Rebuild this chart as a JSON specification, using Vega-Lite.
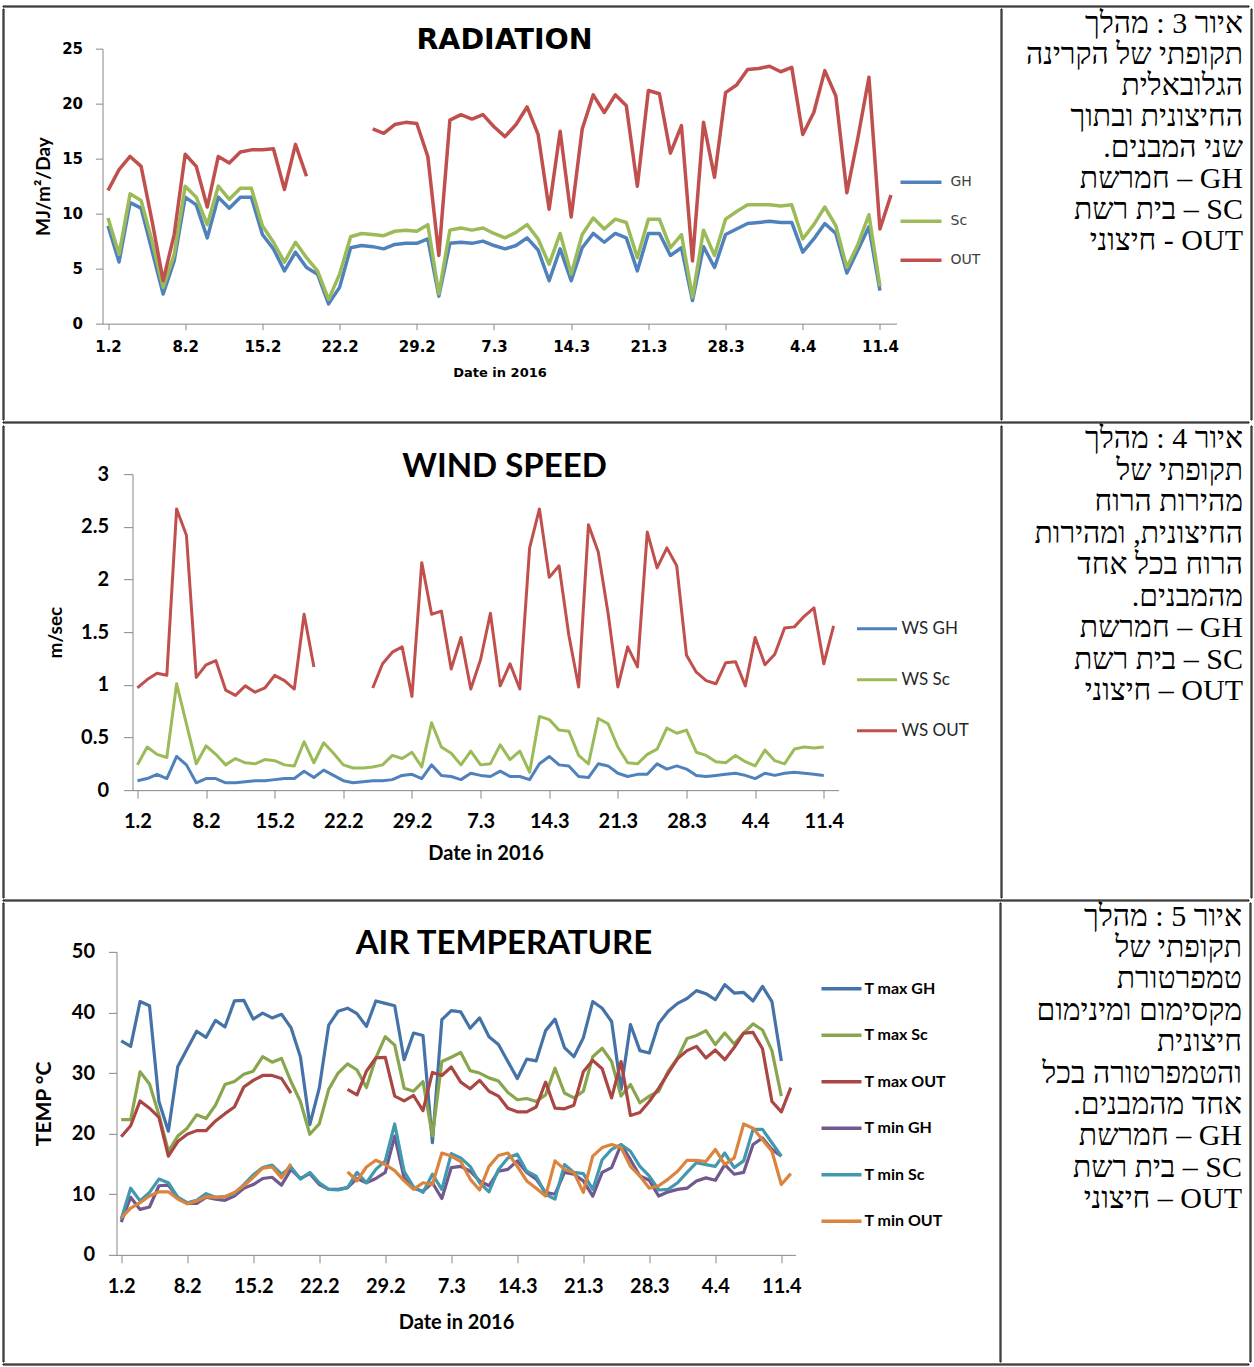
{
"$schema": "https://vega.github.io/schema/vega-lite/v6.json",
"padding": {"left": 1.5, "top": 4.5, "right": 2, "bottom": 1},
"background": "white",
"config": {
  "view": {"stroke": null},
  "axis": {"grid": false, "domainColor": "#868686", "tickColor": "#868686", "labelColor": "black", "titleColor": "black", "labelFontWeight": "bold", "titleFontWeight": "bold", "labelOverlap": false, "labelFlush": false}
},
"datasets": {
"rad": [
{"date":"2016-02-01","GH":8.9,"Sc":9.6,"OUT":12.1},
{"date":"2016-02-02","GH":5.6,"Sc":6.3,"OUT":14.0},
{"date":"2016-02-03","GH":11.0,"Sc":11.8,"OUT":15.2},
{"date":"2016-02-04","GH":10.5,"Sc":11.2,"OUT":14.3},
{"date":"2016-02-05","GH":6.6,"Sc":7.5,"OUT":9.3},
{"date":"2016-02-06","GH":2.7,"Sc":3.3,"OUT":3.9},
{"date":"2016-02-07","GH":5.7,"Sc":6.3,"OUT":8.1},
{"date":"2016-02-08","GH":11.5,"Sc":12.5,"OUT":15.4},
{"date":"2016-02-09","GH":10.8,"Sc":11.5,"OUT":14.3},
{"date":"2016-02-10","GH":7.8,"Sc":9.0,"OUT":10.6},
{"date":"2016-02-11","GH":11.5,"Sc":12.5,"OUT":15.2},
{"date":"2016-02-12","GH":10.5,"Sc":11.3,"OUT":14.6},
{"date":"2016-02-13","GH":11.5,"Sc":12.3,"OUT":15.6},
{"date":"2016-02-14","GH":11.5,"Sc":12.3,"OUT":15.8},
{"date":"2016-02-15","GH":8.1,"Sc":8.9,"OUT":15.8},
{"date":"2016-02-16","GH":6.8,"Sc":7.4,"OUT":15.9},
{"date":"2016-02-17","GH":4.8,"Sc":5.6,"OUT":12.2},
{"date":"2016-02-18","GH":6.5,"Sc":7.4,"OUT":16.3},
{"date":"2016-02-19","GH":5.1,"Sc":6.0,"OUT":13.4},
{"date":"2016-02-20","GH":4.5,"Sc":4.8,"OUT":null},
{"date":"2016-02-21","GH":1.8,"Sc":2.2,"OUT":null},
{"date":"2016-02-22","GH":3.3,"Sc":4.5,"OUT":null},
{"date":"2016-02-23","GH":6.9,"Sc":7.9,"OUT":null},
{"date":"2016-02-24","GH":7.1,"Sc":8.2,"OUT":null},
{"date":"2016-02-25","GH":7.0,"Sc":8.1,"OUT":17.7},
{"date":"2016-02-26","GH":6.8,"Sc":8.0,"OUT":17.3},
{"date":"2016-02-27","GH":7.2,"Sc":8.4,"OUT":18.1},
{"date":"2016-02-28","GH":7.3,"Sc":8.5,"OUT":18.3},
{"date":"2016-02-29","GH":7.3,"Sc":8.4,"OUT":18.2},
{"date":"2016-03-01","GH":7.7,"Sc":9.0,"OUT":15.2},
{"date":"2016-03-02","GH":2.5,"Sc":2.7,"OUT":6.2},
{"date":"2016-03-03","GH":7.3,"Sc":8.5,"OUT":18.5},
{"date":"2016-03-04","GH":7.4,"Sc":8.7,"OUT":19.0},
{"date":"2016-03-05","GH":7.3,"Sc":8.5,"OUT":18.6},
{"date":"2016-03-06","GH":7.5,"Sc":8.7,"OUT":19.0},
{"date":"2016-03-07","GH":7.1,"Sc":8.2,"OUT":17.9},
{"date":"2016-03-08","GH":6.8,"Sc":7.8,"OUT":17.0},
{"date":"2016-03-09","GH":7.1,"Sc":8.3,"OUT":18.1},
{"date":"2016-03-10","GH":7.8,"Sc":9.0,"OUT":19.7},
{"date":"2016-03-11","GH":6.7,"Sc":7.7,"OUT":17.2},
{"date":"2016-03-12","GH":3.9,"Sc":5.4,"OUT":10.4},
{"date":"2016-03-13","GH":6.8,"Sc":8.2,"OUT":17.5},
{"date":"2016-03-14","GH":3.9,"Sc":4.5,"OUT":9.7},
{"date":"2016-03-15","GH":6.9,"Sc":8.1,"OUT":17.7},
{"date":"2016-03-16","GH":8.2,"Sc":9.6,"OUT":20.8},
{"date":"2016-03-17","GH":7.4,"Sc":8.6,"OUT":19.2},
{"date":"2016-03-18","GH":8.2,"Sc":9.5,"OUT":20.8},
{"date":"2016-03-19","GH":7.8,"Sc":9.2,"OUT":19.8},
{"date":"2016-03-20","GH":4.8,"Sc":6.0,"OUT":12.5},
{"date":"2016-03-21","GH":8.2,"Sc":9.5,"OUT":21.2},
{"date":"2016-03-22","GH":8.2,"Sc":9.5,"OUT":20.9},
{"date":"2016-03-23","GH":6.2,"Sc":6.9,"OUT":15.5},
{"date":"2016-03-24","GH":6.9,"Sc":8.1,"OUT":18.0},
{"date":"2016-03-25","GH":2.1,"Sc":2.4,"OUT":5.7},
{"date":"2016-03-26","GH":7.0,"Sc":8.5,"OUT":18.3},
{"date":"2016-03-27","GH":5.1,"Sc":6.2,"OUT":13.3},
{"date":"2016-03-28","GH":8.1,"Sc":9.5,"OUT":21.0},
{"date":"2016-03-29","GH":8.6,"Sc":10.2,"OUT":21.7},
{"date":"2016-03-30","GH":9.1,"Sc":10.8,"OUT":23.1},
{"date":"2016-03-31","GH":9.2,"Sc":10.8,"OUT":23.2},
{"date":"2016-04-01","GH":9.3,"Sc":10.8,"OUT":23.4},
{"date":"2016-04-02","GH":9.2,"Sc":10.7,"OUT":22.9},
{"date":"2016-04-03","GH":9.2,"Sc":10.8,"OUT":23.3},
{"date":"2016-04-04","GH":6.5,"Sc":7.7,"OUT":17.2},
{"date":"2016-04-05","GH":7.7,"Sc":9.0,"OUT":19.2},
{"date":"2016-04-06","GH":9.1,"Sc":10.6,"OUT":23.0},
{"date":"2016-04-07","GH":8.2,"Sc":8.9,"OUT":20.7},
{"date":"2016-04-08","GH":4.6,"Sc":5.1,"OUT":11.9},
{"date":"2016-04-09","GH":6.7,"Sc":7.2,"OUT":16.9},
{"date":"2016-04-10","GH":8.8,"Sc":9.9,"OUT":22.4},
{"date":"2016-04-11","GH":3.0,"Sc":3.4,"OUT":8.6},
{"date":"2016-04-12","GH":null,"Sc":null,"OUT":11.7}
],
"wind": [
{"date":"2016-02-01","WS GH":0.09,"WS Sc":0.24,"WS OUT":0.97},
{"date":"2016-02-02","WS GH":0.11,"WS Sc":0.41,"WS OUT":1.05},
{"date":"2016-02-03","WS GH":0.15,"WS Sc":0.34,"WS OUT":1.11},
{"date":"2016-02-04","WS GH":0.11,"WS Sc":0.31,"WS OUT":1.09},
{"date":"2016-02-05","WS GH":0.32,"WS Sc":1.01,"WS OUT":2.67},
{"date":"2016-02-06","WS GH":0.24,"WS Sc":0.63,"WS OUT":2.42},
{"date":"2016-02-07","WS GH":0.07,"WS Sc":0.25,"WS OUT":1.07},
{"date":"2016-02-08","WS GH":0.11,"WS Sc":0.42,"WS OUT":1.19},
{"date":"2016-02-09","WS GH":0.11,"WS Sc":0.34,"WS OUT":1.23},
{"date":"2016-02-10","WS GH":0.07,"WS Sc":0.24,"WS OUT":0.95},
{"date":"2016-02-11","WS GH":0.07,"WS Sc":0.30,"WS OUT":0.90},
{"date":"2016-02-12","WS GH":0.08,"WS Sc":0.26,"WS OUT":0.99},
{"date":"2016-02-13","WS GH":0.09,"WS Sc":0.25,"WS OUT":0.93},
{"date":"2016-02-14","WS GH":0.09,"WS Sc":0.29,"WS OUT":0.97},
{"date":"2016-02-15","WS GH":0.10,"WS Sc":0.28,"WS OUT":1.09},
{"date":"2016-02-16","WS GH":0.11,"WS Sc":0.24,"WS OUT":1.04},
{"date":"2016-02-17","WS GH":0.11,"WS Sc":0.23,"WS OUT":0.96},
{"date":"2016-02-18","WS GH":0.18,"WS Sc":0.46,"WS OUT":1.67},
{"date":"2016-02-19","WS GH":0.12,"WS Sc":0.26,"WS OUT":1.17},
{"date":"2016-02-20","WS GH":0.19,"WS Sc":0.45,"WS OUT":null},
{"date":"2016-02-21","WS GH":0.14,"WS Sc":0.35,"WS OUT":null},
{"date":"2016-02-22","WS GH":0.09,"WS Sc":0.24,"WS OUT":null},
{"date":"2016-02-23","WS GH":0.07,"WS Sc":0.21,"WS OUT":null},
{"date":"2016-02-24","WS GH":0.08,"WS Sc":0.21,"WS OUT":null},
{"date":"2016-02-25","WS GH":0.09,"WS Sc":0.22,"WS OUT":0.97},
{"date":"2016-02-26","WS GH":0.09,"WS Sc":0.24,"WS OUT":1.20},
{"date":"2016-02-27","WS GH":0.10,"WS Sc":0.33,"WS OUT":1.31},
{"date":"2016-02-28","WS GH":0.14,"WS Sc":0.30,"WS OUT":1.36},
{"date":"2016-02-29","WS GH":0.15,"WS Sc":0.36,"WS OUT":0.89},
{"date":"2016-03-01","WS GH":0.11,"WS Sc":0.22,"WS OUT":2.16},
{"date":"2016-03-02","WS GH":0.24,"WS Sc":0.64,"WS OUT":1.67},
{"date":"2016-03-03","WS GH":0.14,"WS Sc":0.41,"WS OUT":1.70},
{"date":"2016-03-04","WS GH":0.13,"WS Sc":0.35,"WS OUT":1.15},
{"date":"2016-03-05","WS GH":0.10,"WS Sc":0.24,"WS OUT":1.45},
{"date":"2016-03-06","WS GH":0.16,"WS Sc":0.37,"WS OUT":0.96},
{"date":"2016-03-07","WS GH":0.14,"WS Sc":0.24,"WS OUT":1.24},
{"date":"2016-03-08","WS GH":0.13,"WS Sc":0.25,"WS OUT":1.68},
{"date":"2016-03-09","WS GH":0.18,"WS Sc":0.43,"WS OUT":0.99},
{"date":"2016-03-10","WS GH":0.13,"WS Sc":0.29,"WS OUT":1.20},
{"date":"2016-03-11","WS GH":0.13,"WS Sc":0.37,"WS OUT":0.96},
{"date":"2016-03-12","WS GH":0.10,"WS Sc":0.17,"WS OUT":2.30},
{"date":"2016-03-13","WS GH":0.25,"WS Sc":0.70,"WS OUT":2.67},
{"date":"2016-03-14","WS GH":0.32,"WS Sc":0.67,"WS OUT":2.02},
{"date":"2016-03-15","WS GH":0.24,"WS Sc":0.57,"WS OUT":2.13},
{"date":"2016-03-16","WS GH":0.23,"WS Sc":0.56,"WS OUT":1.47},
{"date":"2016-03-17","WS GH":0.13,"WS Sc":0.33,"WS OUT":0.98},
{"date":"2016-03-18","WS GH":0.12,"WS Sc":0.25,"WS OUT":2.52},
{"date":"2016-03-19","WS GH":0.25,"WS Sc":0.68,"WS OUT":2.26},
{"date":"2016-03-20","WS GH":0.23,"WS Sc":0.63,"WS OUT":1.68},
{"date":"2016-03-21","WS GH":0.16,"WS Sc":0.41,"WS OUT":0.98},
{"date":"2016-03-22","WS GH":0.13,"WS Sc":0.26,"WS OUT":1.36},
{"date":"2016-03-23","WS GH":0.15,"WS Sc":0.25,"WS OUT":1.17},
{"date":"2016-03-24","WS GH":0.15,"WS Sc":0.34,"WS OUT":2.45},
{"date":"2016-03-25","WS GH":0.25,"WS Sc":0.39,"WS OUT":2.11},
{"date":"2016-03-26","WS GH":0.20,"WS Sc":0.59,"WS OUT":2.30},
{"date":"2016-03-27","WS GH":0.23,"WS Sc":0.54,"WS OUT":2.13},
{"date":"2016-03-28","WS GH":0.20,"WS Sc":0.57,"WS OUT":1.28},
{"date":"2016-03-29","WS GH":0.14,"WS Sc":0.36,"WS OUT":1.12},
{"date":"2016-03-30","WS GH":0.13,"WS Sc":0.33,"WS OUT":1.04},
{"date":"2016-03-31","WS GH":0.14,"WS Sc":0.27,"WS OUT":1.01},
{"date":"2016-04-01","WS GH":0.15,"WS Sc":0.26,"WS OUT":1.21},
{"date":"2016-04-02","WS GH":0.16,"WS Sc":0.33,"WS OUT":1.22},
{"date":"2016-04-03","WS GH":0.14,"WS Sc":0.27,"WS OUT":0.99},
{"date":"2016-04-04","WS GH":0.11,"WS Sc":0.23,"WS OUT":1.45},
{"date":"2016-04-05","WS GH":0.16,"WS Sc":0.38,"WS OUT":1.19},
{"date":"2016-04-06","WS GH":0.14,"WS Sc":0.28,"WS OUT":1.29},
{"date":"2016-04-07","WS GH":0.16,"WS Sc":0.25,"WS OUT":1.54},
{"date":"2016-04-08","WS GH":0.17,"WS Sc":0.39,"WS OUT":1.55},
{"date":"2016-04-09","WS GH":0.16,"WS Sc":0.41,"WS OUT":1.65},
{"date":"2016-04-10","WS GH":0.15,"WS Sc":0.40,"WS OUT":1.73},
{"date":"2016-04-11","WS GH":0.14,"WS Sc":0.41,"WS OUT":1.20},
{"date":"2016-04-12","WS GH":null,"WS Sc":null,"WS OUT":1.56}
],
"temp": [
{"date":"2016-02-01","T max GH":35.3,"T max Sc":22.3,"T max OUT":19.5,"T min GH":5.4,"T min Sc":5.9,"T min OUT":6.1},
{"date":"2016-02-02","T max GH":34.4,"T max Sc":22.3,"T max OUT":21.3,"T min GH":9.5,"T min Sc":11.0,"T min OUT":7.7},
{"date":"2016-02-03","T max GH":41.8,"T max Sc":30.2,"T max OUT":25.4,"T min GH":7.5,"T min Sc":8.9,"T min OUT":8.6},
{"date":"2016-02-04","T max GH":41.1,"T max Sc":28.2,"T max OUT":24.2,"T min GH":7.9,"T min Sc":10.3,"T min OUT":9.7},
{"date":"2016-02-05","T max GH":25.3,"T max Sc":23.1,"T max OUT":22.7,"T min GH":11.4,"T min Sc":12.5,"T min OUT":10.4},
{"date":"2016-02-06","T max GH":20.4,"T max Sc":17.1,"T max OUT":16.3,"T min GH":11.5,"T min Sc":11.9,"T min OUT":10.4},
{"date":"2016-02-07","T max GH":31.1,"T max Sc":19.6,"T max OUT":18.7,"T min GH":9.5,"T min Sc":9.5,"T min OUT":9.2},
{"date":"2016-02-08","T max GH":34.0,"T max Sc":20.9,"T max OUT":19.9,"T min GH":8.5,"T min Sc":8.6,"T min OUT":8.4},
{"date":"2016-02-09","T max GH":36.9,"T max Sc":23.1,"T max OUT":20.5,"T min GH":8.5,"T min Sc":9.0,"T min OUT":8.9},
{"date":"2016-02-10","T max GH":35.9,"T max Sc":22.5,"T max OUT":20.5,"T min GH":9.5,"T min Sc":10.1,"T min OUT":9.6},
{"date":"2016-02-11","T max GH":38.7,"T max Sc":24.7,"T max OUT":22.1,"T min GH":9.2,"T min Sc":9.5,"T min OUT":9.5},
{"date":"2016-02-12","T max GH":37.6,"T max Sc":28.1,"T max OUT":23.3,"T min GH":9.0,"T min Sc":9.6,"T min OUT":9.6},
{"date":"2016-02-13","T max GH":41.9,"T max Sc":28.6,"T max OUT":24.4,"T min GH":9.7,"T min Sc":10.1,"T min OUT":10.3},
{"date":"2016-02-14","T max GH":42.0,"T max Sc":29.8,"T max OUT":27.7,"T min GH":11.0,"T min Sc":11.6,"T min OUT":11.4},
{"date":"2016-02-15","T max GH":38.9,"T max Sc":30.3,"T max OUT":28.8,"T min GH":11.6,"T min Sc":13.2,"T min OUT":12.8},
{"date":"2016-02-16","T max GH":39.9,"T max Sc":32.7,"T max OUT":29.6,"T min GH":12.6,"T min Sc":14.4,"T min OUT":14.3},
{"date":"2016-02-17","T max GH":39.1,"T max Sc":31.8,"T max OUT":29.6,"T min GH":12.8,"T min Sc":14.8,"T min OUT":14.5},
{"date":"2016-02-18","T max GH":39.7,"T max Sc":32.4,"T max OUT":29.1,"T min GH":11.5,"T min Sc":13.3,"T min OUT":12.7},
{"date":"2016-02-19","T max GH":37.5,"T max Sc":28.6,"T max OUT":26.7,"T min GH":14.1,"T min Sc":14.5,"T min OUT":15.0},
{"date":"2016-02-20","T max GH":32.7,"T max Sc":25.3,"T max OUT":null,"T min GH":12.6,"T min Sc":12.5,"T min OUT":null},
{"date":"2016-02-21","T max GH":21.5,"T max Sc":19.9,"T max OUT":null,"T min GH":13.4,"T min Sc":13.6,"T min OUT":null},
{"date":"2016-02-22","T max GH":27.5,"T max Sc":21.6,"T max OUT":null,"T min GH":11.6,"T min Sc":11.9,"T min OUT":null},
{"date":"2016-02-23","T max GH":37.9,"T max Sc":27.3,"T max OUT":null,"T min GH":10.8,"T min Sc":10.8,"T min OUT":null},
{"date":"2016-02-24","T max GH":40.2,"T max Sc":30.0,"T max OUT":null,"T min GH":10.8,"T min Sc":10.7,"T min OUT":null},
{"date":"2016-02-25","T max GH":40.7,"T max Sc":31.5,"T max OUT":27.3,"T min GH":11.1,"T min Sc":11.1,"T min OUT":13.7},
{"date":"2016-02-26","T max GH":39.8,"T max Sc":30.5,"T max OUT":26.4,"T min GH":12.6,"T min Sc":13.6,"T min OUT":12.2},
{"date":"2016-02-27","T max GH":37.7,"T max Sc":27.6,"T max OUT":30.3,"T min GH":11.9,"T min Sc":11.9,"T min OUT":14.5},
{"date":"2016-02-28","T max GH":41.9,"T max Sc":32.5,"T max OUT":32.5,"T min GH":12.6,"T min Sc":14.1,"T min OUT":15.6},
{"date":"2016-02-29","T max GH":41.5,"T max Sc":36.0,"T max OUT":32.6,"T min GH":13.6,"T min Sc":15.5,"T min OUT":14.9},
{"date":"2016-03-01","T max GH":41.1,"T max Sc":34.6,"T max OUT":26.2,"T min GH":19.6,"T min Sc":21.6,"T min OUT":13.9},
{"date":"2016-03-02","T max GH":32.2,"T max Sc":27.5,"T max OUT":25.4,"T min GH":12.7,"T min Sc":13.8,"T min OUT":12.2},
{"date":"2016-03-03","T max GH":36.6,"T max Sc":27.0,"T max OUT":26.3,"T min GH":11.0,"T min Sc":11.2,"T min OUT":10.8},
{"date":"2016-03-04","T max GH":36.2,"T max Sc":28.6,"T max OUT":23.8,"T min GH":10.5,"T min Sc":10.3,"T min OUT":11.9},
{"date":"2016-03-05","T max GH":18.5,"T max Sc":19.6,"T max OUT":30.1,"T min GH":11.9,"T min Sc":13.3,"T min OUT":11.6},
{"date":"2016-03-06","T max GH":38.8,"T max Sc":31.9,"T max OUT":29.6,"T min GH":9.3,"T min Sc":10.8,"T min OUT":16.8},
{"date":"2016-03-07","T max GH":40.3,"T max Sc":32.6,"T max OUT":31.0,"T min GH":14.4,"T min Sc":16.7,"T min OUT":16.3},
{"date":"2016-03-08","T max GH":40.1,"T max Sc":33.4,"T max OUT":28.5,"T min GH":14.6,"T min Sc":16.0,"T min OUT":15.4},
{"date":"2016-03-09","T max GH":37.4,"T max Sc":30.4,"T max OUT":27.4,"T min GH":13.8,"T min Sc":14.6,"T min OUT":12.5},
{"date":"2016-03-10","T max GH":39.1,"T max Sc":30.0,"T max OUT":28.8,"T min GH":12.2,"T min Sc":11.9,"T min OUT":10.7},
{"date":"2016-03-11","T max GH":36.0,"T max Sc":29.2,"T max OUT":27.0,"T min GH":11.4,"T min Sc":10.4,"T min OUT":14.6},
{"date":"2016-03-12","T max GH":34.7,"T max Sc":28.7,"T max OUT":26.2,"T min GH":13.8,"T min Sc":14.1,"T min OUT":16.4},
{"date":"2016-03-13","T max GH":31.9,"T max Sc":26.8,"T max OUT":24.2,"T min GH":14.1,"T min Sc":16.0,"T min OUT":16.8},
{"date":"2016-03-14","T max GH":29.1,"T max Sc":25.6,"T max OUT":23.6,"T min GH":15.5,"T min Sc":16.6,"T min OUT":14.6},
{"date":"2016-03-15","T max GH":32.3,"T max Sc":25.8,"T max OUT":23.6,"T min GH":13.6,"T min Sc":13.8,"T min OUT":12.2},
{"date":"2016-03-16","T max GH":32.0,"T max Sc":25.3,"T max OUT":24.4,"T min GH":12.5,"T min Sc":13.0,"T min OUT":11.0},
{"date":"2016-03-17","T max GH":37.0,"T max Sc":26.4,"T max OUT":28.5,"T min GH":10.3,"T min Sc":10.0,"T min OUT":9.7},
{"date":"2016-03-18","T max GH":38.9,"T max Sc":30.8,"T max OUT":24.2,"T min GH":10.0,"T min Sc":9.2,"T min OUT":15.5},
{"date":"2016-03-19","T max GH":34.2,"T max Sc":26.7,"T max OUT":24.1,"T min GH":13.6,"T min Sc":14.9,"T min OUT":14.1},
{"date":"2016-03-20","T max GH":32.7,"T max Sc":25.9,"T max OUT":24.7,"T min GH":13.3,"T min Sc":13.6,"T min OUT":13.6},
{"date":"2016-03-21","T max GH":35.8,"T max Sc":27.0,"T max OUT":30.2,"T min GH":12.2,"T min Sc":13.4,"T min OUT":10.3},
{"date":"2016-03-22","T max GH":41.8,"T max Sc":32.7,"T max OUT":32.1,"T min GH":9.7,"T min Sc":10.8,"T min OUT":16.3},
{"date":"2016-03-23","T max GH":40.7,"T max Sc":34.1,"T max OUT":30.7,"T min GH":13.6,"T min Sc":15.7,"T min OUT":17.7},
{"date":"2016-03-24","T max GH":38.5,"T max Sc":31.9,"T max OUT":25.9,"T min GH":14.4,"T min Sc":17.4,"T min OUT":18.2},
{"date":"2016-03-25","T max GH":27.3,"T max Sc":26.2,"T max OUT":31.9,"T min GH":18.2,"T min Sc":18.2,"T min OUT":17.7},
{"date":"2016-03-26","T max GH":38.0,"T max Sc":28.1,"T max OUT":23.0,"T min GH":15.7,"T min Sc":17.1,"T min OUT":14.6},
{"date":"2016-03-27","T max GH":33.7,"T max Sc":25.1,"T max OUT":23.5,"T min GH":13.0,"T min Sc":14.6,"T min OUT":13.0},
{"date":"2016-03-28","T max GH":33.3,"T max Sc":26.2,"T max OUT":25.3,"T min GH":12.3,"T min Sc":13.0,"T min OUT":11.0},
{"date":"2016-03-29","T max GH":38.2,"T max Sc":27.0,"T max OUT":27.5,"T min GH":9.7,"T min Sc":10.7,"T min OUT":11.4},
{"date":"2016-03-30","T max GH":40.2,"T max Sc":30.3,"T max OUT":30.0,"T min GH":10.4,"T min Sc":10.8,"T min OUT":12.5},
{"date":"2016-03-31","T max GH":41.5,"T max Sc":32.5,"T max OUT":32.4,"T min GH":10.8,"T min Sc":11.9,"T min OUT":13.8},
{"date":"2016-04-01","T max GH":42.3,"T max Sc":35.7,"T max OUT":33.7,"T min GH":11.0,"T min Sc":13.6,"T min OUT":15.6},
{"date":"2016-04-02","T max GH":43.6,"T max Sc":36.2,"T max OUT":34.4,"T min GH":12.2,"T min Sc":15.2,"T min OUT":15.6},
{"date":"2016-04-03","T max GH":43.1,"T max Sc":37.0,"T max OUT":32.5,"T min GH":12.7,"T min Sc":14.9,"T min OUT":15.4},
{"date":"2016-04-04","T max GH":42.1,"T max Sc":34.7,"T max OUT":33.8,"T min GH":12.3,"T min Sc":14.6,"T min OUT":17.4},
{"date":"2016-04-05","T max GH":44.6,"T max Sc":36.6,"T max OUT":32.2,"T min GH":14.9,"T min Sc":16.8,"T min OUT":14.9},
{"date":"2016-04-06","T max GH":43.2,"T max Sc":34.8,"T max OUT":34.2,"T min GH":13.3,"T min Sc":14.4,"T min OUT":16.0},
{"date":"2016-04-07","T max GH":43.3,"T max Sc":36.6,"T max OUT":36.6,"T min GH":13.6,"T min Sc":15.5,"T min OUT":21.6},
{"date":"2016-04-08","T max GH":41.9,"T max Sc":38.1,"T max OUT":36.7,"T min GH":18.2,"T min Sc":20.7,"T min OUT":20.9},
{"date":"2016-04-09","T max GH":44.3,"T max Sc":37.1,"T max OUT":34.0,"T min GH":19.3,"T min Sc":20.7,"T min OUT":19.0},
{"date":"2016-04-10","T max GH":41.8,"T max Sc":33.7,"T max OUT":25.3,"T min GH":17.4,"T min Sc":18.5,"T min OUT":17.1},
{"date":"2016-04-11","T max GH":32.0,"T max Sc":26.2,"T max OUT":23.6,"T min GH":16.3,"T min Sc":16.3,"T min OUT":11.6},
{"date":"2016-04-12","T max GH":null,"T max Sc":null,"T max OUT":27.6,"T min GH":null,"T min Sc":null,"T min OUT":13.4}
]
},
"resolve": {"scale": {"color": "independent"}, "legend": {"color": "independent"}},
"spacing": 0,
"vconcat": [
{"width": 1246, "height": 1, "data": {"values": []}, "mark": "point", "encoding": {}, "view": {"stroke": "black", "strokeWidth": 1}},
{
  "spacing": 4,
  "resolve": {"scale": {"color": "independent"}, "legend": {"color": "independent"}},
  "hconcat": [
    {"width": 1, "height": 411, "data": {"values": []}, "mark": "point", "encoding": {}, "view": {"stroke": "black", "strokeWidth": 1}},
    {"width": 20.25, "height": 1, "data": {"values": []}, "mark": "point", "encoding": {}, "view": {"stroke": "transparent"}},
    {
      "spacing": 15.15,
      "resolve": {"scale": {"color": "independent"}, "legend": {"color": "independent"}},
      "vconcat": [
        {"width": 892, "height": 1, "data": {"values": []}, "mark": "point", "encoding": {}, "view": {"stroke": "transparent"}},
        {
          "width": 794, "height": 275,
          "title": {"text": "RADIATION", "font": "DejaVu Sans", "fontSize": 28.5, "fontWeight": "bold", "color": "black", "anchor": "middle", "baseline": "alphabetic", "offset": -10, "dx": 5, "dy": 26},
          "data": {"name": "rad"},
          "transform": [{"fold": ["GH", "Sc", "OUT"], "as": ["series", "value"]}],
          "mark": {"type": "line", "strokeWidth": 3.5, "strokeJoin": "round", "invalid": "break-paths-show-domains"},
          "encoding": {
            "x": {"field": "date", "type": "temporal",
              "scale": {"type": "utc", "domain": [{"year": 2016, "month": 1, "date": 31, "hours": 12, "utc": true}, {"year": 2016, "month": 4, "date": 12, "hours": 12, "utc": true}]},
              "axis": {"values": [{"year":2016,"month":2,"date":1,"utc":true},{"year":2016,"month":2,"date":8,"utc":true},{"year":2016,"month":2,"date":15,"utc":true},{"year":2016,"month":2,"date":22,"utc":true},{"year":2016,"month":2,"date":29,"utc":true},{"year":2016,"month":3,"date":7,"utc":true},{"year":2016,"month":3,"date":14,"utc":true},{"year":2016,"month":3,"date":21,"utc":true},{"year":2016,"month":3,"date":28,"utc":true},{"year":2016,"month":4,"date":4,"utc":true},{"year":2016,"month":4,"date":11,"utc":true}],
                "labelExpr": "utcFormat(datum.value, '%-d.%-m')", "tickSize": 6, "labelFont": "DejaVu Sans", "labelFontSize": 15, "labelPadding": 10,
                "title": "Date in 2016", "titleFont": "DejaVu Sans", "titleFontSize": 13, "titlePadding": 12}},
            "y": {"field": "value", "type": "quantitative",
              "scale": {"domain": [0, 25], "nice": false},
              "axis": {"values": [0, 5, 10, 15, 20, 25], "tickSize": 7, "labelFont": "DejaVu Sans", "labelFontSize": 15, "labelPadding": 13,
                "title": "MJ/m²/Day", "titleFont": "Lato", "titleFontSize": 19, "titlePadding": 8}},
            "color": {"field": "series", "type": "nominal",
              "scale": {"domain": ["GH", "Sc", "OUT"], "range": ["#4F81BD", "#9BBB59", "#C0504D"]},
              "legend": {"title": null, "orient": "none", "legendX": 796, "legendY": 111, "padding": 0, "symbolType": "stroke", "symbolSize": 1681, "symbolStrokeWidth": 3.5, "labelFont": "DejaVu Sans", "labelFontSize": 14, "labelColor": "#404040", "labelOffset": 7, "rowPadding": 9}}
          }
        }
      ]
    },
    {"width": 1, "height": 411, "data": {"values": []}, "mark": "point", "encoding": {}, "view": {"stroke": "black", "strokeWidth": 1}},
    {
      "width": 239, "height": 411,
      "data": {"values": [
        {"line": 1, "text": "איור 3 : מהלך"},
        {"line": 2, "text": "תקופתי של הקרינה"},
        {"line": 3, "text": "הגלובאלית"},
        {"line": 4, "text": "החיצונית ובתוך"},
        {"line": 5, "text": "שני המבנים.\u200f"},
        {"line": 6, "text": "חמרשת – GH"},
        {"line": 7, "text": "בית רשת – SC"},
        {"line": 8, "text": "חיצוני - OUT"}
      ]},
      "mark": {"type": "text", "align": "right", "baseline": "middle", "font": "Liberation Serif", "fontSize": 30, "color": "black"},
      "encoding": {
        "x": {"datum": 1, "type": "quantitative", "scale": {"domain": [0, 1.0106], "nice": false, "zero": false}, "axis": null},
        "y": {"field": "line", "type": "quantitative", "scale": {"domain": [0.516, 13.774], "reverse": true, "nice": false, "zero": false}, "axis": null},
        "text": {"field": "text"}
      }
    },
    {"width": 1, "height": 411, "data": {"values": []}, "mark": "point", "encoding": {}, "view": {"stroke": "black", "strokeWidth": 1}}
  ]
},
{"width": 1246, "height": 1, "data": {"values": []}, "mark": "point", "encoding": {}, "view": {"stroke": "black", "strokeWidth": 1}},
{
  "spacing": 4,
  "resolve": {"scale": {"color": "independent"}, "legend": {"color": "independent"}},
  "hconcat": [
    {"width": 1, "height": 472, "data": {"values": []}, "mark": "point", "encoding": {}, "view": {"stroke": "black", "strokeWidth": 1}},
    {"width": 31.6, "height": 1, "data": {"values": []}, "mark": "point", "encoding": {}, "view": {"stroke": "transparent"}},
    {
      "spacing": 23.65,
      "resolve": {"scale": {"color": "independent"}, "legend": {"color": "independent"}},
      "vconcat": [
        {"width": 861.7, "height": 1, "data": {"values": []}, "mark": "point", "encoding": {}, "view": {"stroke": "transparent"}},
        {
          "width": 706, "height": 316,
          "title": {"text": "WIND SPEED", "font": "Lato", "fontSize": 33, "fontWeight": "bold", "color": "black", "anchor": "middle", "baseline": "alphabetic", "offset": -13, "dx": 19, "dy": 33},
          "data": {"name": "wind"},
          "transform": [{"fold": ["WS GH", "WS Sc", "WS OUT"], "as": ["series", "value"]}],
          "mark": {"type": "line", "strokeWidth": 3, "strokeJoin": "round", "invalid": "break-paths-show-domains"},
          "encoding": {
            "x": {"field": "date", "type": "temporal",
              "scale": {"type": "utc", "domain": [{"year": 2016, "month": 1, "date": 31, "hours": 12, "utc": true}, {"year": 2016, "month": 4, "date": 12, "hours": 12, "utc": true}]},
              "axis": {"values": [{"year":2016,"month":2,"date":1,"utc":true},{"year":2016,"month":2,"date":8,"utc":true},{"year":2016,"month":2,"date":15,"utc":true},{"year":2016,"month":2,"date":22,"utc":true},{"year":2016,"month":2,"date":29,"utc":true},{"year":2016,"month":3,"date":7,"utc":true},{"year":2016,"month":3,"date":14,"utc":true},{"year":2016,"month":3,"date":21,"utc":true},{"year":2016,"month":3,"date":28,"utc":true},{"year":2016,"month":4,"date":4,"utc":true},{"year":2016,"month":4,"date":11,"utc":true}],
                "labelExpr": "utcFormat(datum.value, '%-d.%-m')", "tickSize": 8, "labelFont": "Lato", "labelFontSize": 20, "labelPadding": 13,
                "title": "Date in 2016", "titleFont": "Lato", "titleFontSize": 20, "titlePadding": 12}},
            "y": {"field": "value", "type": "quantitative",
              "scale": {"domain": [0, 3], "nice": false},
              "axis": {"values": [0, 0.5, 1, 1.5, 2, 2.5, 3], "format": "~g", "tickSize": 9, "labelFont": "Lato", "labelFontSize": 20, "labelPadding": 15,
                "title": "m/sec", "titleFont": "Lato", "titleFontSize": 19, "titlePadding": 15}},
            "color": {"field": "series", "type": "nominal",
              "scale": {"domain": ["WS GH", "WS Sc", "WS OUT"], "range": ["#4F81BD", "#9BBB59", "#C0504D"]},
              "legend": {"title": null, "orient": "none", "legendX": 723, "legendY": 133, "padding": 0, "symbolType": "stroke", "symbolSize": 1600, "symbolStrokeWidth": 3, "labelFont": "Lato", "labelFontSize": 17, "labelColor": "#262626", "labelOffset": 3, "rowPadding": 21}}
          }
        }
      ]
    },
    {"width": 1, "height": 472, "data": {"values": []}, "mark": "point", "encoding": {}, "view": {"stroke": "black", "strokeWidth": 1}},
    {
      "width": 239, "height": 472,
      "data": {"values": [
        {"line": 1, "text": "איור 4 : מהלך"},
        {"line": 2, "text": "תקופתי של"},
        {"line": 3, "text": "מהירות הרוח"},
        {"line": 4, "text": "החיצונית, ומהירות"},
        {"line": 5, "text": "הרוח בכל אחד"},
        {"line": 6, "text": "מהמבנים.\u200f"},
        {"line": 7, "text": "חמרשת – GH"},
        {"line": 8, "text": "בית רשת – SC"},
        {"line": 9, "text": "חיצוני – OUT"}
      ]},
      "mark": {"type": "text", "align": "right", "baseline": "middle", "font": "Liberation Serif", "fontSize": 30, "color": "black"},
      "encoding": {
        "x": {"datum": 1, "type": "quantitative", "scale": {"domain": [0, 1.0106], "nice": false, "zero": false}, "axis": null},
        "y": {"field": "line", "type": "quantitative", "scale": {"domain": [0.556, 15.54], "reverse": true, "nice": false, "zero": false}, "axis": null},
        "text": {"field": "text"}
      }
    },
    {"width": 1, "height": 472, "data": {"values": []}, "mark": "point", "encoding": {}, "view": {"stroke": "black", "strokeWidth": 1}}
  ]
},
{"width": 1246, "height": 1, "data": {"values": []}, "mark": "point", "encoding": {}, "view": {"stroke": "black", "strokeWidth": 1}},
{
  "spacing": 4,
  "resolve": {"scale": {"color": "independent"}, "legend": {"color": "independent"}},
  "hconcat": [
    {"width": 1, "height": 459, "data": {"values": []}, "mark": "point", "encoding": {}, "view": {"stroke": "black", "strokeWidth": 1}},
    {"width": 18.4, "height": 1, "data": {"values": []}, "mark": "point", "encoding": {}, "view": {"stroke": "transparent"}},
    {
      "spacing": 23.35,
      "resolve": {"scale": {"color": "independent"}, "legend": {"color": "independent"}},
      "vconcat": [
        {"width": 877.3, "height": 1, "data": {"values": []}, "mark": "point", "encoding": {}, "view": {"stroke": "transparent"}},
        {
          "width": 679, "height": 303,
          "title": {"text": "AIR TEMPERATURE", "font": "Lato", "fontSize": 33, "fontWeight": "bold", "color": "black", "anchor": "middle", "baseline": "alphabetic", "offset": -12, "dx": 48, "dy": 33},
          "data": {"name": "temp"},
          "transform": [{"fold": ["T max GH", "T max Sc", "T max OUT", "T min GH", "T min Sc", "T min OUT"], "as": ["series", "value"]}],
          "mark": {"type": "line", "strokeWidth": 3.2, "strokeJoin": "round", "invalid": "break-paths-show-domains"},
          "encoding": {
            "x": {"field": "date", "type": "temporal",
              "scale": {"type": "utc", "domain": [{"year": 2016, "month": 1, "date": 31, "hours": 12, "utc": true}, {"year": 2016, "month": 4, "date": 12, "hours": 12, "utc": true}]},
              "axis": {"values": [{"year":2016,"month":2,"date":1,"utc":true},{"year":2016,"month":2,"date":8,"utc":true},{"year":2016,"month":2,"date":15,"utc":true},{"year":2016,"month":2,"date":22,"utc":true},{"year":2016,"month":2,"date":29,"utc":true},{"year":2016,"month":3,"date":7,"utc":true},{"year":2016,"month":3,"date":14,"utc":true},{"year":2016,"month":3,"date":21,"utc":true},{"year":2016,"month":3,"date":28,"utc":true},{"year":2016,"month":4,"date":4,"utc":true},{"year":2016,"month":4,"date":11,"utc":true}],
                "labelExpr": "utcFormat(datum.value, '%-d.%-m')", "tickSize": 8, "labelFont": "Lato", "labelFontSize": 20, "labelPadding": 14,
                "title": "Date in 2016", "titleFont": "Lato", "titleFontSize": 20, "titlePadding": 16}},
            "y": {"field": "value", "type": "quantitative",
              "scale": {"domain": [0, 50], "nice": false},
              "axis": {"values": [0, 10, 20, 30, 40, 50], "tickSize": 8, "labelFont": "Lato", "labelFontSize": 20, "labelPadding": 14,
                "title": "TEMP °C", "titleFont": "Lato", "titleFontSize": 21, "titlePadding": 17}},
            "color": {"field": "series", "type": "nominal",
              "scale": {"domain": ["T max GH", "T max Sc", "T max OUT", "T min GH", "T min Sc", "T min OUT"], "range": ["#4572A7", "#89A54E", "#AA4643", "#71588F", "#4198AF", "#DB843D"]},
              "legend": {"title": null, "orient": "none", "legendX": 703, "legendY": 15, "padding": 0, "symbolType": "stroke", "symbolSize": 1600, "symbolStrokeWidth": 3.5, "labelFont": "Lato", "labelFontSize": 16, "labelFontWeight": "bold", "labelColor": "black", "labelOffset": 1, "rowPadding": 16.5}}
          }
        }
      ]
    },
    {"width": 1, "height": 459, "data": {"values": []}, "mark": "point", "encoding": {}, "view": {"stroke": "black", "strokeWidth": 1}},
    {
      "width": 239, "height": 459,
      "data": {"values": [
        {"line": 1, "text": "איור 5 : מהלך"},
        {"line": 2, "text": "תקופתי של"},
        {"line": 3, "text": "טמפרטורת"},
        {"line": 4, "text": "מקסימום ומינימום"},
        {"line": 5, "text": "חיצונית"},
        {"line": 6, "text": "והטמפרטורה בכל"},
        {"line": 7, "text": "אחד מהמבנים.\u200f"},
        {"line": 8, "text": "חמרשת – GH"},
        {"line": 9, "text": "בית רשת – SC"},
        {"line": 10, "text": "חיצוני – OUT"}
      ]},
      "mark": {"type": "text", "align": "right", "baseline": "middle", "font": "Liberation Serif", "fontSize": 30, "color": "black"},
      "encoding": {
        "x": {"datum": 1, "type": "quantitative", "scale": {"domain": [0, 1.0106], "nice": false, "zero": false}, "axis": null},
        "y": {"field": "line", "type": "quantitative", "scale": {"domain": [0.554, 15.172], "reverse": true, "nice": false, "zero": false}, "axis": null},
        "text": {"field": "text"}
      }
    },
    {"width": 1, "height": 459, "data": {"values": []}, "mark": "point", "encoding": {}, "view": {"stroke": "black", "strokeWidth": 1}}
  ]
},
{"width": 1246, "height": 1, "data": {"values": []}, "mark": "point", "encoding": {}, "view": {"stroke": "black", "strokeWidth": 1}}
]
}
